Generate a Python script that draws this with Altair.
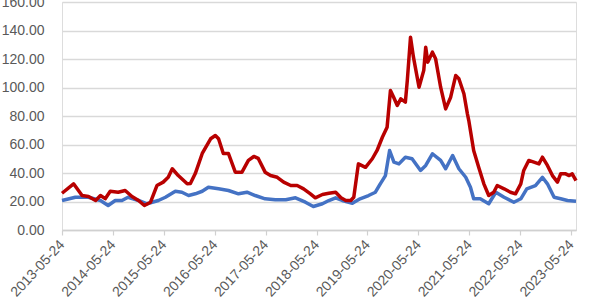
import altair as alt
import pandas as pd

red_dates = ["2013-05-24","2013-08-15","2013-10-15","2013-11-30","2014-01-20","2014-02-24","2014-03-30",
    "2014-05-05","2014-07-01","2014-08-20","2014-10-08","2014-11-24","2015-01-05","2015-02-18","2015-04-05",
    "2015-05-20","2015-06-25","2015-07-24","2015-09-05","2015-11-08","2015-12-01","2016-01-05","2016-02-24",
    "2016-04-24","2016-05-28","2016-06-20","2016-07-24","2016-08-30","2016-10-18","2016-12-05","2017-01-20",
    "2017-02-28","2017-04-01","2017-05-20","2017-06-28","2017-08-15","2017-09-30","2017-11-20","2018-01-05",
    "2018-02-20","2018-04-10","2018-05-15","2018-07-05","2018-08-20","2018-10-08","2018-11-15","2018-12-20",
    "2019-01-24","2019-02-15","2019-03-20","2019-05-10","2019-06-28","2019-08-01","2019-09-08","2019-10-12",
    "2019-11-05","2019-11-28","2019-12-24","2020-01-18","2020-02-20","2020-03-05","2020-03-28","2020-04-18",
    "2020-05-28","2020-07-01","2020-07-15","2020-07-30","2020-09-01","2020-09-24","2020-10-30","2020-12-05",
    "2021-01-10","2021-02-15","2021-03-10","2021-04-15","2021-05-10","2021-05-20","2021-06-24","2021-07-30",
    "2021-09-05","2021-10-10","2021-11-15","2021-12-10","2022-01-28","2022-03-15","2022-04-20","2022-05-28",
    "2022-06-18","2022-07-24","2022-08-30","2022-10-05","2022-10-30","2022-12-05","2023-01-10","2023-02-15",
    "2023-03-10","2023-04-15","2023-05-10","2023-06-01","2023-06-28"]
red_values = [25.8,32.4,24.2,23.5,20.7,24.2,22.0,27.2,26.5,27.7,23.5,20.7,17.2,19.5,31.2,33.6,37.0,43.0,38.2,
    32.4,32.6,39.6,53.7,64.0,66.3,64.0,53.7,53.7,40.6,40.6,48.8,51.6,50.2,40.6,38.2,37.0,33.6,31.2,31.2,28.9,
    25.4,22.6,24.9,25.8,26.5,22.6,20.7,20.7,23.0,46.4,44.0,50.0,55.8,65.1,72.1,97.9,93.2,87.4,92.0,89.7,105.0,
    135.3,121.3,100.2,112.0,128.3,117.8,124.8,120.1,100.2,85.0,93.2,108.4,106.1,95.6,81.5,76.8,55.8,44.0,32.4,
    24.2,26.5,31.2,28.9,26.5,25.4,32.4,41.8,48.8,47.6,46.4,51.1,45.3,38.2,33.6,39.4,39.4,38.2,39.4,34.7]

blue_dates = ["2013-05-24","2013-08-28","2013-11-30","2014-02-24","2014-04-20","2014-06-10","2014-07-28",
    "2014-09-10","2014-11-24","2015-01-24","2015-04-15","2015-06-05","2015-08-15","2015-10-01","2015-11-18",
    "2016-01-05","2016-02-24","2016-04-08","2016-06-20","2016-08-30","2016-11-10","2017-01-10","2017-03-10",
    "2017-05-20","2017-08-01","2017-10-15","2017-12-24","2018-03-05","2018-05-01","2018-07-05","2018-08-20",
    "2018-10-08","2018-11-24","2019-02-05","2019-04-01","2019-06-01","2019-07-20","2019-08-24","2019-09-30",
    "2019-10-30","2019-11-30","2020-01-05","2020-02-20","2020-04-08","2020-06-08","2020-07-15","2020-09-01",
    "2020-10-30","2020-12-05","2021-01-24","2021-03-10","2021-04-28","2021-06-01","2021-06-24","2021-08-10",
    "2021-10-10","2021-11-30","2022-01-28","2022-04-08","2022-05-28","2022-07-10","2022-09-10","2022-10-30",
    "2022-12-05","2023-01-22","2023-03-10","2023-04-28","2023-06-28"]
blue_values = [20.7,23.0,23.0,20.7,17.2,20.7,20.7,23.0,20.7,18.4,20.7,23.0,27.2,26.5,24.2,25.4,27.2,30.0,
    28.9,27.7,25.4,26.5,24.2,21.9,21.2,21.2,22.6,19.5,16.5,18.4,20.7,22.6,20.7,18.8,21.9,24.2,26.5,32.4,38.2,
    55.8,47.6,46.4,51.1,50.0,41.8,45.3,53.5,48.8,43.0,52.3,43.0,37.0,30.0,21.9,21.9,18.4,26.5,23.0,19.5,21.9,
    28.9,31.2,37.0,32.4,23.0,21.9,20.7,20.2]

tick_years = list(range(2013, 2024))
y_ticks = [0, 20, 40, 60, 80, 100, 120, 140, 160]

df = pd.concat([
    pd.DataFrame({"date": blue_dates, "value": blue_values, "series": "B", "order": 0}),
    pd.DataFrame({"date": red_dates, "value": red_values, "series": "A", "order": 1}),
])

x = alt.X("date:T",
    scale=alt.Scale(type="utc",
                    domain=[alt.DateTime(year=2013, month=5, date=24, utc=True),
                            alt.DateTime(year=2023, month=6, date=28, utc=True)]),
    axis=alt.Axis(title=None, values=[alt.DateTime(year=yy, month=5, date=24, utc=True) for yy in tick_years],
                  format="%Y-%m-%d", labelAngle=313, labelAlign="right", labelBaseline="middle",
                  labelFont="Liberation Sans", labelFontSize=14, labelColor="#595959",
                  labelPadding=7, tickSize=5, tickColor="#D0D0D0", domainColor="#D0D0D0",
                  domainWidth=1.5, tickWidth=1.2, grid=False, labelOverlap=False, labelBound=False,
                  labelFlush=False))
y = alt.Y("value:Q",
    scale=alt.Scale(domain=[0, 160], nice=False),
    axis=alt.Axis(title=None, values=y_ticks, format=".2f", labelFont="Liberation Sans",
                  labelFontSize=14, labelColor="#595959", labelPadding=18, ticks=False,
                  domain=False, gridColor="#D9D9D9", gridWidth=1.5))

chart = alt.Chart(df).mark_line(strokeWidth=3.5, strokeJoin="round").encode(
    x=x, y=y,
    color=alt.Color("series:N", scale=alt.Scale(domain=["A", "B"], range=["#B80000", "#4472C4"]), legend=None),
    detail="series:N",
    order=alt.Order("order:Q"),
).properties(
    width=514, height=228,
    padding={"left": 62, "top": 2, "right": 14, "bottom": 78},
    autosize=alt.AutoSizeParams(type="none"),
).configure_view(stroke=None).configure(background="white")

chart.save("out.html", embed_options={"renderer": "svg", "actions": False})
